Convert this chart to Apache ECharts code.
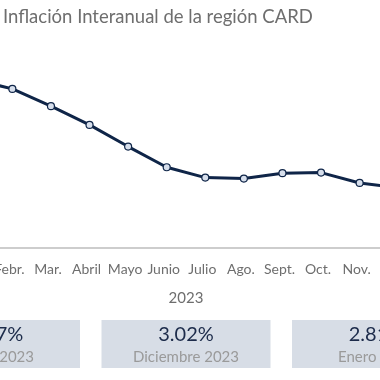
<!DOCTYPE html>
<html>
<head>
<meta charset="utf-8">
<script src="https://cdn.jsdelivr.net/npm/echarts@6/dist/echarts.min.js"></script>
<style>
html,body{margin:0;padding:0;background:#fff;}
#chart{width:380px;height:380px;}
</style>
</head>
<body>
<div id="chart"></div>
<script>
var title = 'Inflación Interanual de la región CARD';
var months = ['Enero', 'Febr.', 'Mar.', 'Abril', 'Mayo', 'Junio', 'Julio', 'Ago.', 'Sept.', 'Oct.', 'Nov.', 'Dic.'];
var yearLabel = '2023';
var inflation = [8.47, 8.00, 7.13, 6.19, 5.10, 4.06, 3.54, 3.49, 3.76, 3.79, 3.27, 3.02];
var boxValues = ['8.47%', '3.02%', '2.81%'];
var boxLabels = ['Enero 2023', 'Diciembre 2023', 'Enero 2024'];

var FONT = 'Lato';
var chart = echarts.init(document.getElementById('chart'), null, {renderer: 'canvas'});

var gridLeft = -45.5, gridWidth = 463;
var center = gridLeft + gridWidth / 2;
var boxW = 169, boxGap = 190.5, boxTop = 320, boxH = 48;

var graphics = [{
  type: 'text', left: 3, top: 8,
  style: {text: title, fill: '#6e6e6e', font: '18.5px ' + FONT}
}];
boxValues.forEach(function (v, i) {
  var cx = center + (i - 1) * boxGap;
  graphics.push({
    type: 'group', x: cx - boxW / 2, y: boxTop,
    children: [
      {type: 'rect', shape: {x: 0, y: 0, width: boxW, height: boxH}, style: {fill: '#d7dde6'}},
      {type: 'text', style: {text: v, x: boxW / 2, y: 15, align: 'center', verticalAlign: 'middle', fill: '#1c2b4a', font: '20px ' + FONT}},
      {type: 'text', style: {text: boxLabels[i], x: boxW / 2, y: 37, align: 'center', verticalAlign: 'middle', fill: '#9a9a9a', font: '15px ' + FONT}}
    ]
  });
});

chart.setOption({
  animation: false,
  backgroundColor: '#ffffff',
  grid: {left: gridLeft, width: gridWidth, top: 69, bottom: 132, containLabel: false, outerBoundsMode: 'none'},
  xAxis: {
    type: 'category', data: months, boundaryGap: true,
    axisLine: {show: true, lineStyle: {color: '#bdbdbd', width: 1.5}},
    axisTick: {show: false},
    axisLabel: {interval: 0, color: '#6e6e6e', fontFamily: FONT, fontSize: 14, margin: 14, padding: [0, 6, 0, 0]},
    name: yearLabel, nameLocation: 'middle', nameGap: 43,
    nameTextStyle: {color: '#6e6e6e', fontFamily: FONT, fontSize: 15}
  },
  yAxis: {
    type: 'value', min: 0, max: 9, show: false, splitLine: {show: false}
  },
  series: [{
    type: 'line', data: inflation,
    symbol: 'circle', symbolSize: 7,
    lineStyle: {color: '#0f2548', width: 3},
    itemStyle: {color: '#d7dfec', borderColor: '#0f2548', borderWidth: 1.2}
  }],
  graphic: graphics
});
</script>
</body>
</html>
